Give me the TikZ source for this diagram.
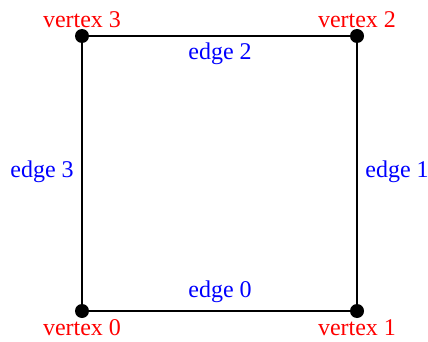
\documentclass[tikz,border=0pt]{standalone}
\usepackage{fontspec}
\setmainfont{Liberation Serif}
\begin{document}
\begin{tikzpicture}[x=0.5pt,y=-0.5pt,
  vert/.style={circle,fill=black,inner sep=0pt,minimum size=7pt},
  vlabel/.style={text=red,font=\fontsize{12}{14}\selectfont,inner sep=0pt},
  elabel/.style={text=blue,font=\fontsize{12}{14}\selectfont,inner sep=0pt},
  edgeline/.style={draw=black,line width=1pt}]
\useasboundingbox (0,0) rectangle (428,342);
\node[vert] (v0) at (82,311) {};
\node[vert] (v1) at (357,311) {};
\node[vert] (v2) at (357,36) {};
\node[vert] (v3) at (82,36) {};
\draw[edgeline] (v0.center) -- (v1.center) -- (v2.center) -- (v3.center) -- cycle;
\node[vlabel] (l0) at (82,328) {vertex 0};
\node[vlabel] (l1) at (357,328) {vertex 1};
\node[vlabel] (l2) at (357,20) {vertex 2};
\node[vlabel] (l3) at (82,20) {vertex 3};
\node[elabel] (e0) at (220,292) {edge 0};
\node[elabel] (e1) at (397,172) {edge 1};
\node[elabel] (e2) at (220,54) {edge 2};
\node[elabel] (e3) at (42,172) {edge 3};
\end{tikzpicture}
\end{document}
